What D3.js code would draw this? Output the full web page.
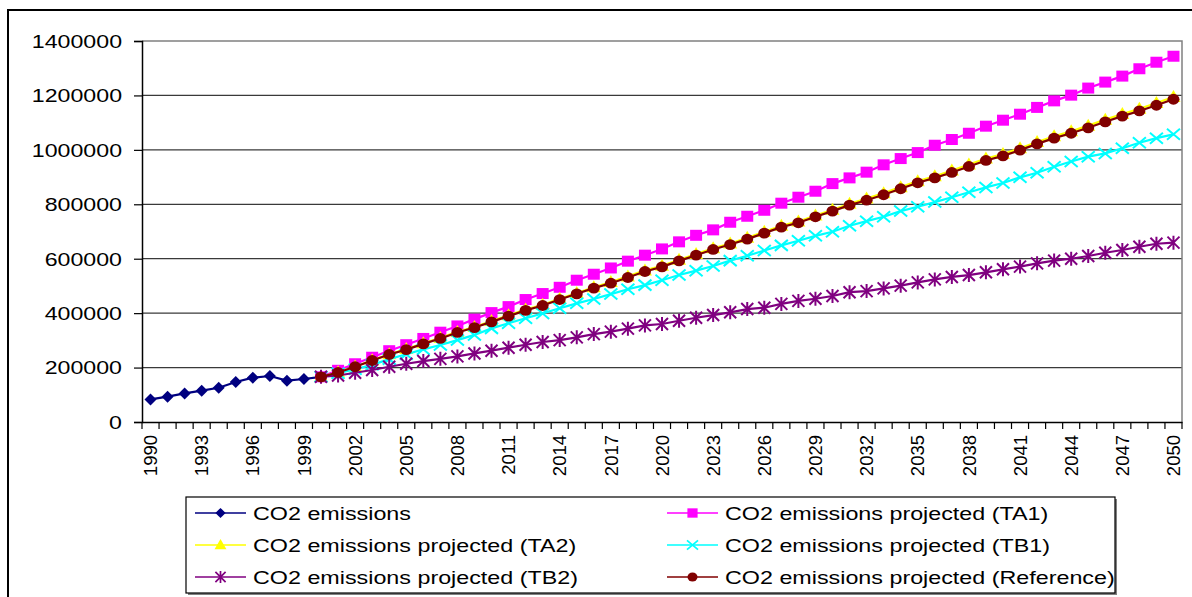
<!DOCTYPE html>
<html>
<head>
<meta charset="utf-8">
<script src="https://cdn.jsdelivr.net/npm/d3@7"></script>
<style>
  body { margin: 0; background: #fff; }
  text { font-family: "Liberation Sans", Arial, sans-serif; fill: #000; }
</style>
</head>
<body>
<div id="chart"></div>
<script>
// Categories
const years = [1990, 1991, 1992, 1993, 1994, 1995, 1996, 1997, 1998, 1999,
  2000, 2001, 2002, 2003, 2004, 2005, 2006, 2007, 2008, 2009,
  2010, 2011, 2012, 2013, 2014, 2015, 2016, 2017, 2018, 2019,
  2020, 2021, 2022, 2023, 2024, 2025, 2026, 2027, 2028, 2029,
  2030, 2031, 2032, 2033, 2034, 2035, 2036, 2037, 2038, 2039,
  2040, 2041, 2042, 2043, 2044, 2045, 2046, 2047, 2048, 2049, 2050];
const histYears = years.slice(0, 11);   // 1990-2000
const projYears = years.slice(10);      // 2000-2050

// Series values
const histValues = [83000, 93000, 105000, 115000, 126000, 147000, 163000, 169000, 152000, 158000, 166000];
const ta1Values = [166000, 190000, 214000, 238000, 262000, 284000, 307000, 330000, 353000, 378000,
  402000, 424000, 450000, 472000, 495000, 521000, 543000, 566000, 591000, 613000,
  636000, 662000, 686000, 706000, 734000, 756000, 778000, 804000, 826000, 848000,
  876000, 897000, 918000, 945000, 968000, 990000, 1017000, 1038000, 1061000, 1087000,
  1109000, 1131000, 1156000, 1180000, 1201000, 1227000, 1249000, 1271000, 1298000, 1322000, 1344000];
const ta2Values = [166000, 183000, 204000, 227000, 249000, 268000, 289000, 309000, 331000, 349000,
  371000, 392000, 413000, 431000, 453000, 474000, 495000, 514000, 535000, 557000,
  574000, 596000, 617000, 638000, 656000, 677000, 699000, 721000, 737000, 759000,
  780000, 802000, 821000, 841000, 863000, 885000, 903000, 924000, 946000, 968000,
  985000, 1006000, 1029000, 1050000, 1068000, 1089000, 1111000, 1132000, 1151000, 1172000, 1194000];
const tb1Values = [166000, 179000, 194000, 210000, 231000, 249000, 267000, 283000, 301000, 320000,
  344000, 363000, 381000, 399000, 418000, 436000, 452000, 470000, 488000, 503000,
  521000, 540000, 556000, 573000, 593000, 611000, 630000, 649000, 666000, 684000,
  699000, 721000, 738000, 754000, 775000, 791000, 808000, 826000, 844000, 862000,
  878000, 899000, 916000, 938000, 957000, 975000, 987000, 1006000, 1026000, 1043000, 1057000];
const tb2Values = [166000, 171000, 181000, 191000, 203000, 214000, 224000, 232000, 241000, 252000,
  262000, 273000, 284000, 294000, 301000, 311000, 323000, 332000, 343000, 355000,
  360000, 372000, 383000, 393000, 403000, 415000, 420000, 434000, 445000, 453000,
  463000, 477000, 481000, 491000, 501000, 513000, 524000, 533000, 540000, 550000,
  561000, 571000, 583000, 593000, 600000, 610000, 622000, 632000, 644000, 655000, 659000];
const refValues = [166000, 182000, 203000, 226000, 248000, 266000, 287000, 307000, 329000, 347000,
  368000, 389000, 410000, 428000, 450000, 471000, 492000, 510000, 531000, 553000,
  570000, 592000, 613000, 634000, 652000, 672000, 694000, 716000, 732000, 754000,
  775000, 797000, 815000, 835000, 857000, 879000, 897000, 917000, 939000, 961000,
  978000, 999000, 1022000, 1043000, 1061000, 1081000, 1103000, 1124000, 1143000, 1164000, 1186000];

// Tick labels
const yTicks = [0, 200000, 400000, 600000, 800000, 1000000, 1200000, 1400000];
const xLabelYears = [1990, 1993, 1996, 1999, 2002, 2005, 2008, 2011, 2014, 2017, 2020,
  2023, 2026, 2029, 2032, 2035, 2038, 2041, 2044, 2047, 2050];

// Series table
const seriesNames = ["CO2 emissions", "CO2 emissions projected (TA1)", "CO2 emissions projected (TA2)",
  "CO2 emissions projected (TB1)", "CO2 emissions projected (TB2)", "CO2 emissions projected (Reference)"];
const seriesColors = ["#000080", "#ff00ff", "#ffff00", "#00ffff", "#800080", "#800000"];
const seriesMarkers = ["diamond", "square", "triangle", "x", "star", "circle"];
const seriesValues = [histValues, ta1Values, ta2Values, tb1Values, tb2Values, refValues];
const seriesYears = [histYears, projYears, projYears, projYears, projYears, projYears];

const series = seriesNames.map((name, i) => ({
  name: name,
  color: seriesColors[i],
  marker: seriesMarkers[i],
  points: seriesYears[i].map((yr, j) => ({ year: yr, value: seriesValues[i][j] }))
}));

const W = 1192, H = 597;
const plot = { left: 142, right: 1182, top: 41, bottom: 422 };
const stretch = 1.31;       // horizontal text stretch seen in the picture
const legendStretch = 1.26;

const svg = d3.select("#chart").append("svg")
  .attr("width", W)
  .attr("height", H);

// outer chart frame (left and top edges visible)
svg.append("path")
  .attr("d", `M8,${H} L8,10 L${W},10`)
  .attr("fill", "none")
  .attr("stroke", "#000")
  .attr("stroke-width", 2);

const x = d3.scaleBand()
  .domain(years)
  .range([plot.left, plot.right])
  .padding(0);

const y = d3.scaleLinear()
  .domain([0, 1400000])
  .range([plot.bottom, plot.top]);

const cx = yr => x(yr) + x.bandwidth() / 2;

// gridlines
svg.append("g")
  .selectAll("line")
  .data(yTicks.filter(t => t > 0 && t < 1400000))
  .enter().append("line")
  .attr("x1", plot.left).attr("x2", plot.right)
  .attr("y1", d => y(d)).attr("y2", d => y(d))
  .attr("stroke", "#3a3a3a")
  .attr("stroke-width", 1.2);

// plot area border (top and right in gray)
svg.append("path")
  .attr("d", `M${plot.left},${y(1400000)} L${plot.right},${y(1400000)} L${plot.right},${plot.bottom}`)
  .attr("fill", "none")
  .attr("stroke", "#808080")
  .attr("stroke-width", 1.5);

// Y axis
const yAxis = svg.append("g")
  .attr("transform", `translate(${plot.left},0)`)
  .call(d3.axisLeft(y).tickValues(yTicks).tickSize(8).tickPadding(0).tickFormat(d3.format("d")));
yAxis.attr("font-size", null).attr("font-family", null);
yAxis.select(".domain").attr("stroke", "#000").attr("stroke-width", 1.5);
yAxis.selectAll(".tick line").attr("stroke", "#000").attr("stroke-width", 1.2);
yAxis.selectAll(".tick text")
  .attr("x", -20 / stretch)
  .attr("dy", "0.36em")
  .attr("transform", `scale(${stretch},1)`)
  .attr("font-size", 17.7);

// X axis with labels every third year
const xAxis = svg.append("g")
  .attr("transform", `translate(0,${plot.bottom})`)
  .call(d3.axisBottom(x).tickValues(xLabelYears).tickSize(0).tickPadding(0));
xAxis.attr("font-size", null).attr("font-family", null);
xAxis.select(".domain").attr("stroke", "#000").attr("stroke-width", 1.5);
xAxis.selectAll(".tick text")
  .attr("transform", "rotate(-90)")
  .attr("text-anchor", "end")
  .attr("x", -13)
  .attr("y", 0)
  .attr("dy", "0.36em")
  .attr("font-size", 18.5);

// category boundary tick marks
svg.append("g")
  .selectAll("line")
  .data(years.map(d => x(d)).concat([x.range()[1]]))
  .enter().append("line")
  .attr("x1", d => d).attr("x2", d => d)
  .attr("y1", plot.bottom).attr("y2", plot.bottom + 7)
  .attr("stroke", "#000")
  .attr("stroke-width", 1.2);

// marker shapes
function markerPath(type) {
  switch (type) {
    case "diamond": return "M0,-6 L6,0 L0,6 L-6,0 Z";
    case "square": return "M-6,-5.5 L6,-5.5 L6,5.5 L-6,5.5 Z";
    case "triangle": return "M0,-7 L7,5 L-7,5 Z";
    case "x": return "M-6.5,-5.5 L6.5,5.5 M-6.5,5.5 L6.5,-5.5";
    case "star": return "M-6,-6 L6,6 M-6,6 L6,-6 M0,-7 L0,7";
    default: return "";
  }
}

const line = d3.line()
  .x(d => cx(d.year))
  .y(d => y(d.value));

const seriesG = svg.selectAll(".series")
  .data(series)
  .enter().append("g")
  .attr("class", "series");

seriesG.append("path")
  .attr("d", d => line(d.points))
  .attr("fill", "none")
  .attr("stroke", d => d.color)
  .attr("stroke-width", 2.2);

seriesG.each(function(s) {
  const g = d3.select(this);
  const pts = g.selectAll(".pt")
    .data(s.points)
    .enter();
  if (s.marker === "circle") {
    pts.append("ellipse")
      .attr("cx", d => cx(d.year))
      .attr("cy", d => y(d.value))
      .attr("rx", 6).attr("ry", 5.4)
      .attr("fill", s.color);
  } else {
    const open = s.marker === "x" || s.marker === "star";
    pts.append("path")
      .attr("transform", d => `translate(${cx(d.year)},${y(d.value)})`)
      .attr("d", markerPath(s.marker))
      .attr("fill", open ? "none" : s.color)
      .attr("stroke", open ? s.color : "none")
      .attr("stroke-width", 2);
  }
});

// Legend
const legend = { left: 186, top: 497, right: 1115, bottom: 593 };
svg.append("rect")
  .attr("x", legend.left + 2).attr("y", legend.top + 2)
  .attr("width", legend.right - legend.left).attr("height", legend.bottom - legend.top)
  .attr("fill", "#808080");
svg.append("rect")
  .attr("x", legend.left).attr("y", legend.top)
  .attr("width", legend.right - legend.left).attr("height", legend.bottom - legend.top)
  .attr("fill", "#fff")
  .attr("stroke", "#000")
  .attr("stroke-width", 1.2);

const legendCols = [195, 667];
const legendRows = [513, 545, 577];

const items = svg.selectAll(".legend-item")
  .data(series)
  .enter().append("g")
  .attr("class", "legend-item")
  .attr("transform", (d, i) => `translate(${legendCols[i % 2]},${legendRows[Math.floor(i / 2)]})`);

items.append("line")
  .attr("x1", 0).attr("x2", 51)
  .attr("y1", 0).attr("y2", 0)
  .attr("stroke", d => d.color)
  .attr("stroke-width", 1.5);

items.each(function(s) {
  const g = d3.select(this);
  if (s.marker === "circle") {
    g.append("ellipse").attr("cx", 25.5).attr("cy", 0).attr("rx", 5).attr("ry", 4.5).attr("fill", s.color);
  } else {
    const open = s.marker === "x" || s.marker === "star";
    g.append("path")
      .attr("transform", "translate(25.5,0) scale(0.85)")
      .attr("d", markerPath(s.marker))
      .attr("fill", open ? "none" : s.color)
      .attr("stroke", open ? s.color : "none")
      .attr("stroke-width", 2);
  }
});

items.append("text")
  .attr("transform", `translate(58,0) scale(${legendStretch},1)`)
  .attr("dy", "0.36em")
  .attr("font-size", 18.5)
  .text(d => d.name);
</script>
</body>
</html>
